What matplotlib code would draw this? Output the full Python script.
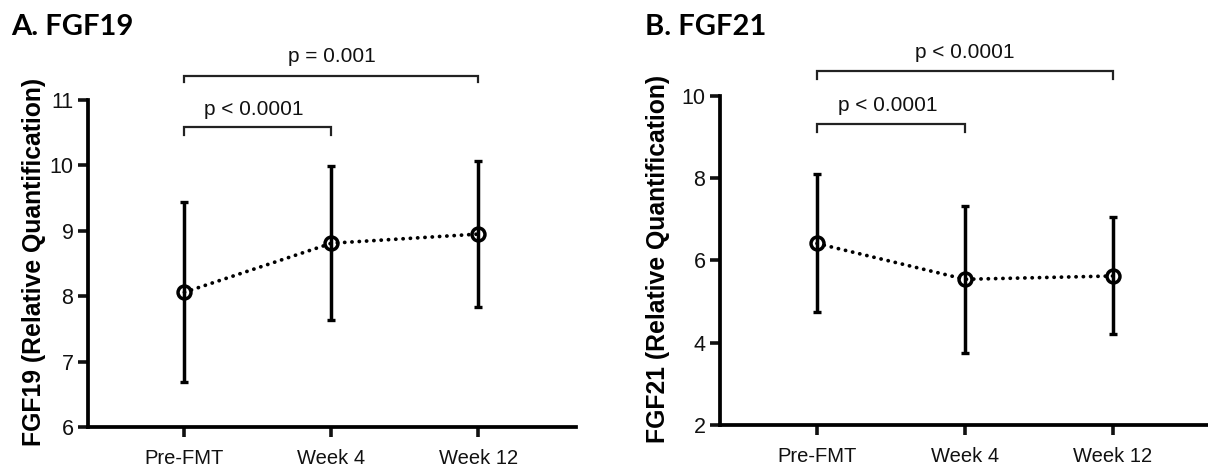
import matplotlib
matplotlib.use('Agg')
import matplotlib.pyplot as plt
import numpy as np

plt.rcParams['font.family'] = ['Liberation Sans', 'DejaVu Sans']

timepoints = ['Pre-FMT', 'Week 4', 'Week 12']

# FGF19: mean with lower / upper error limits
fgf19_mean = [8.06, 8.81, 8.95]
fgf19_low = [6.69, 7.64, 7.83]
fgf19_high = [9.44, 9.99, 10.07]

# FGF21
fgf21_mean = [6.41, 5.54, 5.62]
fgf21_low = [4.75, 3.74, 4.20]
fgf21_high = [8.09, 7.32, 7.06]

# comparisons: (from, to, label)
fgf19_pvals = [(0, 1, 'p < 0.0001'), (0, 2, 'p = 0.001')]
fgf21_pvals = [(0, 1, 'p < 0.0001'), (0, 2, 'p < 0.0001')]

fig = plt.figure(figsize=(12.08, 4.68), dpi=100)


def draw_panel(rect, mean, low, high, ylim, yticks, ylabel, pvals, bracket_y,
               text_y, tick_drop, label_x):
	ax = fig.add_axes(rect)
	x = np.arange(len(timepoints))
	mean = np.array(mean)
	yerr = [mean - np.array(low), np.array(high) - mean]
	ax.errorbar(x, mean, yerr=yerr, fmt='none', ecolor='black',
				elinewidth=2.5, capsize=2.8, capthick=2.4, zorder=2)
	ax.plot(x, mean, color='black', lw=2.7, linestyle=(0, (0.05, 1.9)),
			dash_capstyle='round', zorder=3)
	ax.plot(x, mean, 'o', ms=9.3, mfc='none', mec='black', mew=2.5, zorder=4)

	ax.set_xlim(-0.656, 2.664)
	ax.set_ylim(*ylim)
	ax.set_xticks(x)
	ax.set_xticklabels(timepoints)
	ax.set_yticks(yticks)
	for side in ['top', 'right']:
		ax.spines[side].set_visible(False)
	for side in ['left', 'bottom']:
		ax.spines[side].set_linewidth(2.7)
	ax.tick_params(axis='y', length=7.5, width=2.6, labelsize=15.5, pad=3, colors='#111111')
	ax.tick_params(axis='x', length=7.5, width=2.6, labelsize=14.5, pad=8, colors='#111111')
	ax.set_ylabel(ylabel, fontsize=17.8, fontweight='bold')
	ax.yaxis.set_label_coords(label_x, 0.505)

	# significance brackets above the plot
	for (a, b, txt), by, ty, td in zip(pvals, bracket_y, text_y, tick_drop):
		ax.plot([a, a, b, b], [by - td, by, by, by - td], color='#222222', lw=1.6,
				clip_on=False, solid_joinstyle='miter')
		ax.text((a + b) / 2 - (0.025 if b == 1 else 0), ty, txt, ha='center',
				va='baseline', fontsize=15, color='#111111')
	return ax


draw_panel([88 / 1208, 0.0876, 488 / 1208, 0.6987], fgf19_mean, fgf19_low, fgf19_high,
		   (6, 11), [6, 7, 8, 9, 10, 11], 'FGF19 (Relative Quantification)',
		   fgf19_pvals, [10.59, 11.37], [10.77, 11.58], [0.12, 0.09], -0.086)

draw_panel([720 / 1208, 0.0919, 491 / 1208, 0.7036], fgf21_mean, fgf21_low, fgf21_high,
		   (2, 10), [2, 4, 6, 8, 10], 'FGF21 (Relative Quantification)',
		   fgf21_pvals, [9.31, 10.60], [9.62, 10.91], [0.19, 0.19], -0.102)

fig.text(11 / 1208, 1 - 35 / 468, 'A. FGF19', family='Lato', fontweight='bold',
		 fontsize=21, ha='left', va='baseline')
fig.text(645 / 1208, 1 - 35 / 468, 'B. FGF21', family='Lato', fontweight='bold',
		 fontsize=21, ha='left', va='baseline')

fig.savefig('out.png', dpi=100)
